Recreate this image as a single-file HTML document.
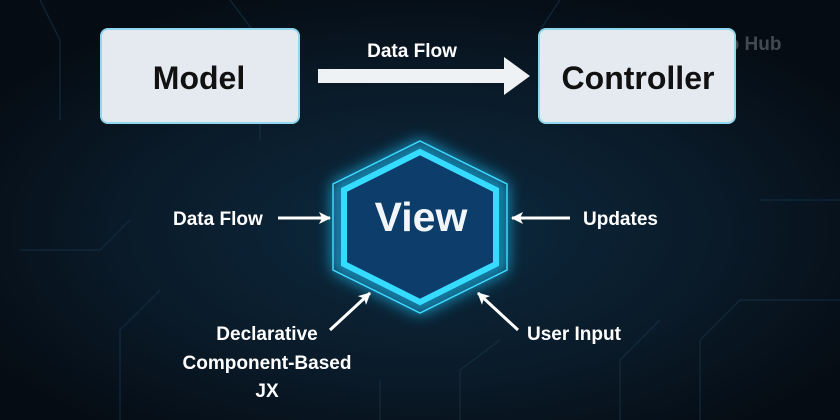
<!DOCTYPE html>
<html><head><style>
body{margin:0;background:#07121c;}
svg{display:block;font-family:"Liberation Sans",sans-serif;}
</style></head><body>
<svg width="840" height="420" viewBox="0 0 840 420">
<defs>
<radialGradient id="bg" cx="50%" cy="55%" r="60%">
<stop offset="0" stop-color="#0c2a40"/><stop offset="0.6" stop-color="#0a1a28"/><stop offset="1" stop-color="#050c14"/>
</radialGradient>
<filter id="gl" x="-50%" y="-50%" width="200%" height="200%"><feGaussianBlur stdDeviation="8"/></filter>
<marker id="ah" markerWidth="14" markerHeight="14" refX="11" refY="7" orient="auto" markerUnits="userSpaceOnUse"><path d="M0,1 L12,7 L0,13 L3,7 Z" fill="#fff"/></marker>
</defs>
<rect width="840" height="420" fill="url(#bg)"/>
<g stroke="#163246" stroke-width="1.5" fill="none" opacity="0.6">
<path d="M40 0 L60 40 L60 120"/><path d="M230 0 L260 40 L260 140"/><path d="M560 0 L540 30"/>
<path d="M120 420 L120 330 L160 290"/><path d="M700 420 L700 340 L740 300 L840 300"/>
<path d="M620 420 L620 360 L660 320"/><path d="M760 200 L840 200"/><path d="M20 250 L100 250 L130 220"/>
<path d="M380 420 L380 380"/><path d="M460 420 L460 370 L500 340"/>
</g>
<text x="716" y="50" font-size="19" font-weight="bold" fill="#8a949d" opacity="0.45">Lo Hub</text>
<rect x="101" y="29" width="198" height="94" rx="7" fill="#e4eaf0" stroke="#8fd8ee" stroke-width="2"/>
<text x="199" y="89" font-size="32" font-weight="bold" fill="#111" text-anchor="middle">Model</text>
<rect x="539" y="29" width="196" height="94" rx="7" fill="#e4eaf0" stroke="#8fd8ee" stroke-width="2"/>
<text x="638" y="89" font-size="32" font-weight="bold" fill="#111" text-anchor="middle">Controller</text>
<text x="412" y="57" font-size="19" font-weight="bold" fill="#fff" text-anchor="middle">Data Flow</text>
<path d="M318 69 L504 69 L504 57 L530 76 L504 95 L504 83 L318 83 Z" fill="#eef2f5"/>
<polygon points="420,148 500,188 500,266 420,306 340,266 340,188" fill="none" stroke="#1ec8ff" stroke-width="14" filter="url(#gl)" opacity="0.8"/>
<polygon points="420,141 507,184 507,270 420,313 333,270 333,184" fill="none" stroke="#3ed8ff" stroke-width="1.5"/>
<polygon points="420,152 496,190 496,264 420,302 344,264 344,190" fill="#0d3d6a" stroke="#36dcff" stroke-width="6"/>
<text x="421" y="231" font-size="41" font-weight="bold" fill="#f2f6fa" text-anchor="middle">View</text>
<g stroke="#fff" stroke-width="3" fill="none" marker-end="url(#ah)">
<line x1="278" y1="218" x2="330" y2="218"/>
<line x1="570" y1="218" x2="512" y2="218"/>
<line x1="330" y1="330" x2="370" y2="293"/>
<line x1="518" y1="330" x2="478" y2="293"/>
</g>
<g font-size="19" font-weight="bold" fill="#fff">
<text x="173" y="225">Data Flow</text>
<text x="583" y="225">Updates</text>
<text x="527" y="340">User Input</text>
<text x="267" y="340" text-anchor="middle">Declarative</text>
<text x="267" y="369" text-anchor="middle">Component-Based</text>
<text x="267" y="397" text-anchor="middle">JX</text>
</g>
</svg>
</body></html>
